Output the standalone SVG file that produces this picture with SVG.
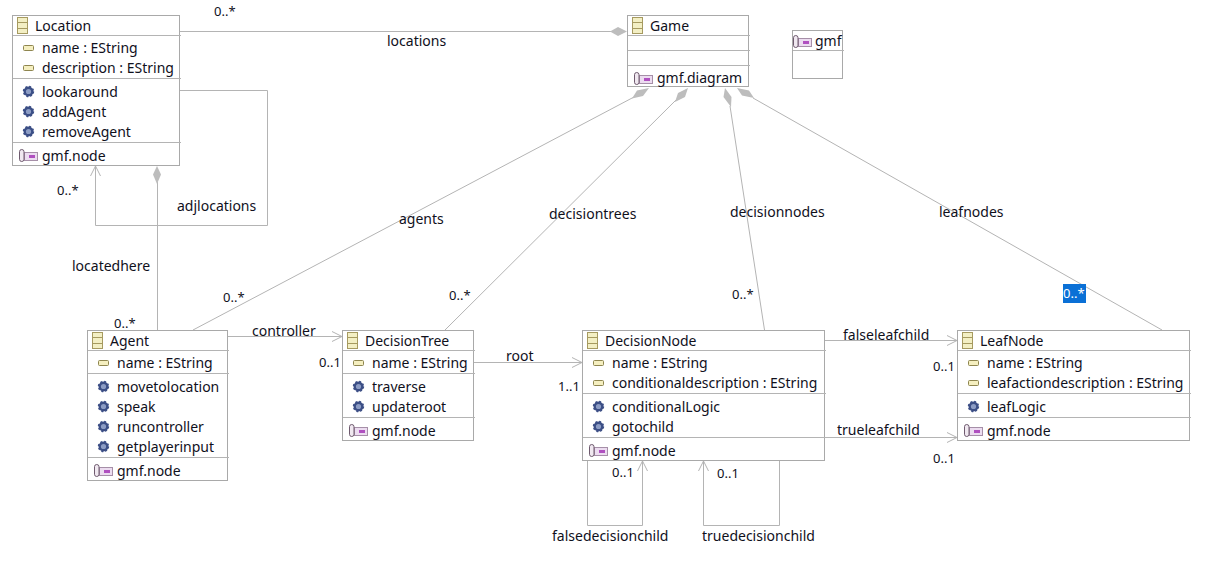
<svg xmlns="http://www.w3.org/2000/svg" width="1213" height="568" viewBox="0 0 1213 568">
<style>
text{font-family:"Noto Sans","Open Sans","Liberation Sans",sans-serif;font-size:14px;fill:#10101c}
text.m{font-size:13px}
.box{fill:#fff;stroke:#a9a9a9;stroke-width:1}
.sep{stroke:#b4b4b4;stroke-width:1;fill:none}
.c{stroke:#b4b4b4;stroke-width:1;fill:none}
.d{fill:#bdbdbd;stroke:none}
.o{fill:none;stroke:#b4b4b4;stroke-width:1}
</style>
<defs>
<g id="cls"><rect x="0.5" y="0.5" width="10" height="16" fill="#f3efc4" stroke="#a69a60"/><path d="M1 5.500H10M1 11.500H10" stroke="#a69a60" fill="none"/></g>
<g id="attr"><rect x="0.500" y="0.500" width="10" height="5" rx="1" fill="#f5efc0" stroke="#8f8650"/></g>
<g id="op"><circle cx="5.500" cy="5.500" r="3.800" fill="#8c9cc4" stroke="#3c4f86" stroke-width="2.400"/><circle cx="5.500" cy="5.500" r="5" fill="none" stroke="#3c4f86" stroke-width="1.400" stroke-dasharray="2 1.930"/></g>
<g id="ann"><rect x="5.500" y="3.500" width="13" height="8" fill="#ecdcf0" stroke="#a68fa8"/><rect x="10" y="6" width="6" height="3" fill="#b050c0"/><rect x="0.500" y="0.500" width="4.500" height="12" rx="2.200" fill="#f0e8f0" stroke="#6e5a6e"/></g>
</defs>
<g id="connectors">
<path class="c" d="M180 31.500H612"/><path class="d" d="M610 31.500L618 27L627 31.500L618 36Z"/>
<path class="c" d="M180 90.500H267.500V225.500H95.500V166"/><path class="o" d="M90.500 176L95.500 166L100.500 176"/>
<path class="c" d="M157.500 330V182"/><path class="d" d="M157 166L161 174.500L157 184L153 174.500Z"/>
<path class="c" d="M193 330L634 97"/><path class="d" d="M649 88L643 96L632 98.500L637 90.500Z"/>
<path class="c" d="M445 330L677 99"/><path class="d" d="M688 88L685 97L675 102L678 93Z"/>
<path class="c" d="M764.500 330L730 106"/><path class="d" d="M725 88L731.500 97L731 107L723.500 97Z"/>
<path class="c" d="M1162 330L753 98"/><path class="d" d="M737 88L749 90.500L754 98L742 95.500Z"/>
<path class="c" d="M228 336.500H342"/><path class="o" d="M332 331.500L342 336.500L332 341.500"/>
<path class="c" d="M474 362.500H582"/><path class="o" d="M572 357.500L582 362.500L572 367.500"/>
<path class="c" d="M825 340.500H957"/><path class="o" d="M947 335.500L957 340.500L947 345.500"/>
<path class="c" d="M825 437.500H957"/><path class="o" d="M947 432.500L957 437.500L947 442.500"/>
<path class="c" d="M587.500 461V525.500H642.500V461"/><path class="o" d="M637.500 471L642.500 461L647.500 471"/>
<path class="c" d="M779.500 461V525.500H703.500V461"/><path class="o" d="M698.500 471L703.500 461L708.500 471"/>
</g>
<g id="Location">
<rect class="box" x="12.500" y="15.500" width="167" height="150"/>
<path class="sep" d="M13 35.500H181M13 78.500H181M13 142.500H181"/>
<use href="#cls" x="17" y="17"/><text x="35" y="31">Location</text>
<use href="#attr" x="23" y="45"/><text x="42" y="53">name : EString</text>
<use href="#attr" x="23" y="65"/><text x="42" y="73">description : EString</text>
<use href="#op" x="23" y="86"/><text x="42" y="97">lookaround</text>
<use href="#op" x="23" y="106"/><text x="42" y="117">addAgent</text>
<use href="#op" x="23" y="126"/><text x="42" y="137">removeAgent</text>
<use href="#ann" x="19" y="149"/><text x="42" y="161">gmf.node</text>
</g>
<g id="Game">
<rect class="box" x="627.500" y="15.500" width="121" height="71"/>
<path class="sep" d="M628 35.500H750M628 50.500H750M628 65.500H750"/>
<use href="#cls" x="632" y="17"/><text x="650" y="31">Game</text>
<use href="#ann" x="634" y="72"/><text x="657" y="83">gmf.diagram</text>
</g>
<g id="gmf">
<rect class="box" x="792.500" y="30.500" width="50" height="48"/>
<path class="sep" d="M793 50.500H844"/>
<use href="#ann" x="793" y="35"/><text x="815" y="46">gmf</text>
</g>
<g id="Agent">
<rect class="box" x="87.500" y="330.500" width="140" height="150"/>
<path class="sep" d="M88 350.500H229M88 373.500H229M88 457.500H229"/>
<use href="#cls" x="92" y="332"/><text x="110" y="346">Agent</text>
<use href="#attr" x="98" y="360"/><text x="117" y="368">name : EString</text>
<use href="#op" x="98" y="381"/><text x="117" y="392">movetolocation</text>
<use href="#op" x="98" y="401"/><text x="117" y="412">speak</text>
<use href="#op" x="98" y="421"/><text x="117" y="432">runcontroller</text>
<use href="#op" x="98" y="441"/><text x="117" y="452">getplayerinput</text>
<use href="#ann" x="94" y="464"/><text x="117" y="476">gmf.node</text>
</g>
<g id="DecisionTree">
<rect class="box" x="342.500" y="330.500" width="131" height="110"/>
<path class="sep" d="M343 350.500H475M343 373.500H475M343 417.500H475"/>
<use href="#cls" x="347" y="332"/><text x="365" y="346">DecisionTree</text>
<use href="#attr" x="353" y="360"/><text x="372" y="368">name : EString</text>
<use href="#op" x="353" y="381"/><text x="372" y="392">traverse</text>
<use href="#op" x="353" y="401"/><text x="372" y="412">updateroot</text>
<use href="#ann" x="349" y="424"/><text x="372" y="436">gmf.node</text>
</g>
<g id="DecisionNode">
<rect class="box" x="582.500" y="330.500" width="242" height="130"/>
<path class="sep" d="M583 350.500H826M583 393.500H826M583 437.500H826"/>
<use href="#cls" x="587" y="332"/><text x="605" y="346">DecisionNode</text>
<use href="#attr" x="593" y="360"/><text x="612" y="368">name : EString</text>
<use href="#attr" x="593" y="380"/><text x="612" y="388">conditionaldescription : EString</text>
<use href="#op" x="593" y="401"/><text x="612" y="412">conditionalLogic</text>
<use href="#op" x="593" y="421"/><text x="612" y="432">gotochild</text>
<use href="#ann" x="589" y="444"/><text x="612" y="456">gmf.node</text>
</g>
<g id="LeafNode">
<rect class="box" x="957.500" y="330.500" width="232" height="110"/>
<path class="sep" d="M958 350.500H1191M958 393.500H1191M958 417.500H1191"/>
<use href="#cls" x="962" y="332"/><text x="980" y="346">LeafNode</text>
<use href="#attr" x="968" y="360"/><text x="987" y="368">name : EString</text>
<use href="#attr" x="968" y="380"/><text x="987" y="388">leafactiondescription : EString</text>
<use href="#op" x="968" y="401"/><text x="987" y="412">leafLogic</text>
<use href="#ann" x="964" y="424"/><text x="987" y="436">gmf.node</text>
</g>
<g id="labels">
<text class="m" x="214" y="16">0..*</text>
<text x="387" y="46">locations</text>
<text class="m" x="57" y="195">0..*</text>
<text x="177" y="211">adjlocations</text>
<text x="72" y="271">locatedhere</text>
<text class="m" x="114" y="328">0..*</text>
<text x="399" y="224">agents</text>
<text class="m" x="223" y="302">0..*</text>
<text x="549" y="219">decisiontrees</text>
<text class="m" x="449" y="300">0..*</text>
<text x="730" y="217">decisionnodes</text>
<text class="m" x="732" y="299">0..*</text>
<text x="939" y="217">leafnodes</text>
<rect x="1063" y="284" width="23" height="19" fill="#0a70d6"/>
<text class="m" x="1063" y="298" style="fill:#fff">0..*</text>
<text x="252" y="336">controller</text>
<text class="m" x="319" y="367">0..1</text>
<text x="506" y="361">root</text>
<text class="m" x="558" y="391">1..1</text>
<text x="843" y="340">falseleafchild</text>
<text class="m" x="933" y="371">0..1</text>
<text x="837" y="435">trueleafchild</text>
<text class="m" x="933" y="463">0..1</text>
<text class="m" x="612" y="477">0..1</text>
<text class="m" x="717" y="478">0..1</text>
<text x="552" y="541">falsedecisionchild</text>
<text x="702" y="541">truedecisionchild</text>
</g>
</svg>
